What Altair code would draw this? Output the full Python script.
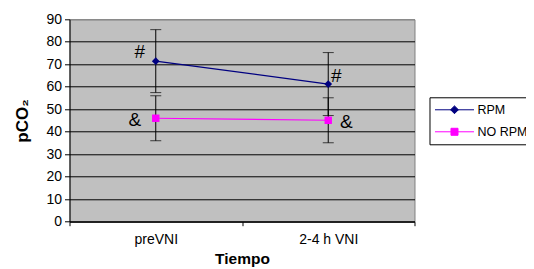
import altair as alt
import pandas as pd

categories = ["preVNI", "2-4 h VNI"]
series = ["RPM", "NO RPM"]
rpm_mean = [71.4, 61.2]
rpm_sd = [14.0, 14.0]
norpm_mean = [46.0, 45.1]
norpm_sd = [10.0, 10.0]
colors = ["#000080", "#FF00FF"]

# annotation marks: (category, y value, text)
ann_cat = ["preVNI", "preVNI", "2-4 h VNI", "2-4 h VNI"]
ann_y = [75.4, 45.2, 64.7, 44.3]
ann_txt = ["#", "&", "#", "&"]
ann_dx = [-16, -21, 8, 18]

rows = []
for s, means, sds in [("RPM", rpm_mean, rpm_sd), ("NO RPM", norpm_mean, norpm_sd)]:
    for c, m, e in zip(categories, means, sds):
        rows.append({"cat": c, "serie": s, "mean": m, "lo": m - e, "hi": m + e})
df = pd.DataFrame(rows)
ann = pd.DataFrame({"cat": ann_cat, "y": ann_y, "txt": ann_txt, "dx": ann_dx})

FONT = "Liberation Sans"

x = alt.X("cat:N", sort=categories,
          scale=alt.Scale(paddingInner=0, paddingOuter=0),
          axis=alt.Axis(title="Tiempo", labelAngle=0, tickBand="extent",
                        domainColor="black", tickColor="black", tickSize=4,
                        labelFontSize=14, labelColor="black", labelFont=FONT,
                        labelPadding=7, titleFontSize=15.5, titleFont=FONT,
                        titleFontWeight="bold", titleColor="black", titlePadding=5))
yscale = alt.Scale(domain=[0, 90], nice=False, zero=True)
yaxis = alt.Axis(title="pCO₂", values=list(range(0, 91, 10)), tickCount=10,
                 labelOverlap=False,
                 domainColor="black", tickColor="black", tickSize=5,
                 gridColor={"condition": {"test": "datum.value >= 90", "value": "#808080"}, "value": "#000000"},
                 gridOpacity=1, grid=True,
                 labelFontSize=14, labelColor="black", labelFont=FONT, labelPadding=3,
                 titleFontSize=17, titleFont=FONT, titleFontWeight="bold",
                 titleColor="black", titlePadding=14)


def Y(field):
    return alt.Y(field, scale=yscale, axis=yaxis)


color_scale = alt.Scale(domain=series, range=colors)

base = alt.Chart(df)

rules = base.mark_rule(color="black", strokeWidth=1).encode(
    x=x, y=Y("lo:Q"), y2="hi:Q")
caps_hi = base.mark_tick(color="black", size=11, thickness=1, orient="horizontal").encode(
    x=x, y=Y("hi:Q"))
caps_lo = base.mark_tick(color="black", size=11, thickness=1, orient="horizontal").encode(
    x=x, y=Y("lo:Q"))

leg_rpm = "M-1,0L1,0M0,-0.2L0.2,0L0,0.2L-0.2,0Z"
leg_no = "M-1,0L1,0M-0.18,-0.18L0.18,-0.18L0.18,0.18L-0.18,0.18Z"
leg = alt.Legend(title=None, orient="none", legendX=360, legendY=78,
                 strokeColor="black", fillColor="white",
                 padding=5, symbolSize=1521, symbolOpacity=1,
                 symbolStrokeWidth=1, clipHeight=15, rowPadding=7,
                 labelFontSize=12.5, labelFont=FONT, labelColor="black",
                 labelOffset=3)
legend_layer = base.mark_point(filled=True, opacity=0.001, size=1521, strokeWidth=1).encode(
    x=x, y=Y("mean:Q"),
    color=alt.Color("serie:N", scale=color_scale, legend=leg),
    shape=alt.Shape("serie:N", scale=alt.Scale(domain=series, range=[leg_rpm, leg_no]),
                    legend=leg))

lines = base.mark_line(strokeWidth=1.2).encode(
    x=x, y=Y("mean:Q"),
    stroke=alt.Stroke("serie:N", scale=color_scale, legend=None),
    detail="serie:N")

pts_rpm = base.transform_filter(alt.datum.serie == "RPM").mark_point(
    shape="diamond", filled=True, opacity=1, size=60, color=colors[0]).encode(
    x=x, y=Y("mean:Q"))
pts_no = base.transform_filter(alt.datum.serie == "NO RPM").mark_point(
    shape="square", filled=True, opacity=1, size=55, color=colors[1]).encode(
    x=x, y=Y("mean:Q"))

texts = []
for i in range(len(ann_txt)):
    texts.append(alt.Chart(ann.iloc[[i]]).mark_text(
        fontSize=19, font=FONT, color="black", dx=int(ann_dx[i]), align="center",
        baseline="middle").encode(
        x=x, y=Y("y:Q"), text="txt:N"))

chart = alt.layer(rules, caps_hi, caps_lo, legend_layer, lines, pts_rpm, pts_no, *texts).properties(
    width=345, height=202.4,
    autosize=alt.AutoSizeParams(type="none"),
    padding={"left": 61.5, "top": 11.3, "right": 111.5, "bottom": 60},
).configure_view(fill="#C0C0C0", stroke="#808080", strokeWidth=1)

chart.save("out.html", embed_options={"renderer": "svg", "actions": False})
